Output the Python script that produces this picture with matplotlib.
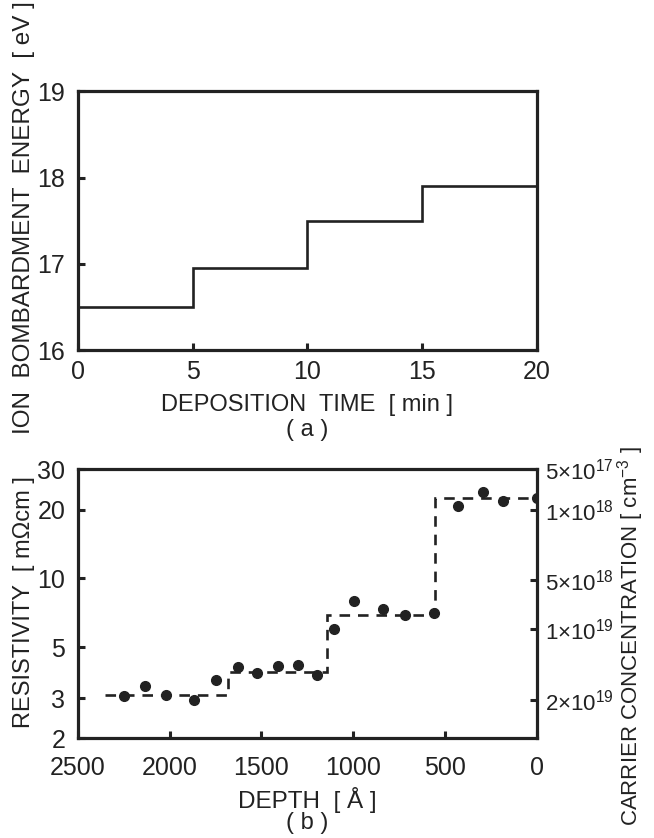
import numpy as np
import matplotlib
matplotlib.use('Agg')
import matplotlib.pyplot as plt

plt.rcParams['font.family'] = ['Liberation Sans', 'DejaVu Sans']
plt.rcParams['mathtext.fontset'] = 'custom'
plt.rcParams['mathtext.rm'] = 'Liberation Sans'
plt.rcParams['mathtext.it'] = 'Liberation Sans'

# (a) ion bombardment energy vs deposition time
time_edges = [0, 5, 10, 15, 20]
energy = [16.5, 16.95, 17.5, 17.9]

# (b) resistivity vs depth
depth_pts = [2250, 2135, 2020, 1865, 1750, 1630, 1525, 1410, 1300, 1195,
             1105, 995, 840, 720, 560, 430, 295, 185, 0]
rho_pts = [3.05, 3.4, 3.1, 2.93, 3.6, 4.1, 3.85, 4.15, 4.2, 3.78,
           6.0, 8.0, 7.35, 6.9, 7.05, 20.8, 23.9, 21.8, 22.5]

step_depth = [2350, 1680, 1143, 555, 0]
step_rho = [3.1, 3.9, 6.9, 22.5]

# carrier concentration scale on right (positions in resistivity units)
conc_pos = [30, 19.9, 9.8, 6.0, 2.93]
conc_labels = [r'$5{\times}10^{17}$', r'$1{\times}10^{18}$', r'$5{\times}10^{18}$',
               r'$1{\times}10^{19}$', r'$2{\times}10^{19}$']

fs = 18
ink = '#222222'
fig = plt.figure(figsize=(6.54, 8.38), dpi=100)

# ---- panel (a)
ax1 = fig.add_axes([0.119, 0.582, 0.702, 0.309])
ax1.stairs(energy, time_edges, color=ink, lw=1.9, baseline=None)
ax1.set_xlim(0, 20)
ax1.set_ylim(16, 19)
ax1.set_xticks([0, 5, 10, 15, 20])
ax1.set_yticks([16, 17, 18, 19])
ax1.tick_params(direction='in', length=5, width=2.2, labelsize=fs, colors=ink, pad=9)
ax1.tick_params(axis='x', pad=7)
for s in ax1.spines.values():
    s.set_linewidth(2.3)
    s.set_color(ink)
fig.text(0.47, 0.517, 'DEPOSITION  TIME  [ min ]', fontsize=17, ha='center', va='center', color=ink)
fig.text(0.47, 0.487, '( a )', fontsize=17, ha='center', va='center', color=ink)
fig.text(0.037, 0.740, 'ION  BOMBARDMENT  ENERGY  [ eV ]', fontsize=17.5, rotation=90,
         ha='center', va='center', color=ink)

# ---- panel (b)
ax2 = fig.add_axes([0.119, 0.119, 0.702, 0.321])
ax2.set_yscale('log')
ax2.stairs(step_rho, step_depth, color=ink, lw=1.9, baseline=None,
           linestyle=(0, (4, 3)))
ax2.plot(depth_pts, rho_pts, 'o', color=ink, ms=7)
ax2.set_xlim(2500, 0)
ax2.set_ylim(2, 30)
ax2.set_xticks([2500, 2000, 1500, 1000, 500, 0])
ax2.set_yticks([2, 3, 5, 10, 20, 30])
ax2.set_yticklabels(['2', '3', '5', '10', '20', '30'])
ax2.yaxis.set_minor_locator(matplotlib.ticker.NullLocator())
ax2.tick_params(direction='in', length=5, width=2.2, labelsize=fs, colors=ink, pad=9)
ax2.tick_params(axis='x', pad=13)
for s in ax2.spines.values():
    s.set_linewidth(2.3)
    s.set_color(ink)

ax3 = ax2.twinx()
ax3.set_yscale('log')
ax3.set_ylim(2, 30)
ax3.set_yticks(conc_pos)
ax3.set_yticklabels(conc_labels)
ax3.yaxis.set_minor_locator(matplotlib.ticker.NullLocator())
ax3.tick_params(direction='in', length=5, width=2.2, labelsize=16, colors=ink, pad=6)
for s in ax3.spines.values():
    s.set_visible(False)

fig.text(0.47, 0.045, 'DEPTH  [ Å ]', fontsize=17.5, ha='center', va='center', color=ink)
fig.text(0.47, 0.018, '( b )', fontsize=17, ha='center', va='center', color=ink)
fig.text(0.037, 0.282, 'RESISTIVITY  [ mΩcm ]', fontsize=17, rotation=90,
         ha='center', va='center', color=ink)
fig.text(0.964, 0.241, r'CARRIER CONCENTRATION [ cm$^{-3}$ ]', fontsize=16, rotation=90,
         ha='center', va='center', color=ink)

fig.savefig('out.png', dpi=100)
